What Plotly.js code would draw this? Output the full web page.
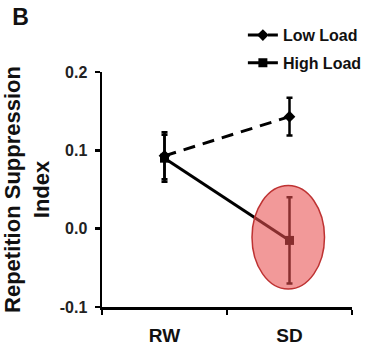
<!DOCTYPE html>
<html>
<head>
<meta charset="utf-8">
<script src="https://cdn.plot.ly/plotly-3.0.1.min.js"></script>
<style>html,body{margin:0;padding:0;background:#fff;}#chart{width:368px;height:349px;}</style>
</head>
<body>
<div id="chart"></div>
<script>
var categories = ["RW", "SD"];
var lowLoad = [0.093, 0.143];
var lowLoadErr = [0.030, 0.024];
var highLoad = [0.090, -0.015];
var highLoadErr = [0.030, 0.055];
var seriesNames = ["Low Load", "High Load"];
var yTickVals = [-0.1, 0.0, 0.1, 0.2];
var yTickText = ["-0.1", "0.0", "0.1", "0.2"];

var FONT = "Liberation Sans, Arial, sans-serif";

var traces = [
  {
    type: "scatter", mode: "lines+markers", name: seriesNames[0],
    x: categories, y: lowLoad,
    legendgroup: "a",
    line: {color: "#000", width: 3, dash: "12px,8px"},
    marker: {symbol: "diamond", size: 9, color: "#000"},
    error_y: {type: "data", array: lowLoadErr, visible: true, color: "#000", thickness: 2.5, width: 3}
  },
  {
    type: "scatter", mode: "lines+markers", name: seriesNames[1],
    x: categories, y: highLoad,
    legendgroup: "b",
    line: {color: "#000", width: 3},
    marker: {symbol: "square", size: 9, color: "#000"},
    error_y: {type: "data", array: highLoadErr, visible: true, color: "#000", thickness: 2.5, width: 3}
  }
];

var layout = {
  width: 368, height: 349,
  margin: {l: 102, r: 16, t: 72, b: 42, pad: 0, autoexpand: false},
  paper_bgcolor: "#fff", plot_bgcolor: "#fff",
  font: {family: FONT, color: "#111"},
  title: {text: "B", x: 0.033, xanchor: "left", xref: "container", y: 0.975, yanchor: "top", yref: "container",
          font: {family: FONT, size: 23, weight: "bold", color: "#111"}},
  showlegend: true,
  legend: {xref: "container", yref: "container", x: 0.66, xanchor: "left", y: 0.948, yanchor: "top",
           traceorder: "grouped", tracegroupgap: 4,
           font: {family: FONT, size: 16, weight: "bold", color: "#111"}, bgcolor: "rgba(0,0,0,0)"},
  xaxis: {
    type: "category", range: [-0.5, 1.5], tickson: "boundaries",
    showline: true, linecolor: "#000", linewidth: 2.5, mirror: false,
    ticks: "outside", ticklen: 5, tickwidth: 2.5, tickcolor: "#000",
    showgrid: false, zeroline: false, fixedrange: true,
    tickfont: {family: FONT, size: 19, weight: "bold", color: "#111"},
    ticklabelstandoff: 10
  },
  yaxis: {
    range: [-0.1, 0.2], tickvals: yTickVals, ticktext: yTickText,
    showline: true, linecolor: "#000", linewidth: 2.5,
    ticks: "outside", ticklen: 5, tickwidth: 2.5, tickcolor: "#000",
    showgrid: false, zeroline: false, fixedrange: true,
    tickfont: {family: FONT, size: 16, weight: "bold", color: "#222"},
    ticklabelstandoff: 4,
    title: {text: "Repetition Suppression<br>Index", standoff: 12,
            font: {family: FONT, size: 22, weight: "bold", color: "#111"}}
  },
  shapes: [
    {type: "circle", xref: "x", yref: "y", x0: 0.70, x1: 1.28, y0: -0.077, y1: 0.055,
     fillcolor: "rgba(232,80,80,0.58)", line: {color: "rgb(190,50,50)", width: 1.5}, layer: "above"}
  ]
};

Plotly.newPlot("chart", traces, layout, {displayModeBar: false, staticPlot: true});
</script>
</body>
</html>
